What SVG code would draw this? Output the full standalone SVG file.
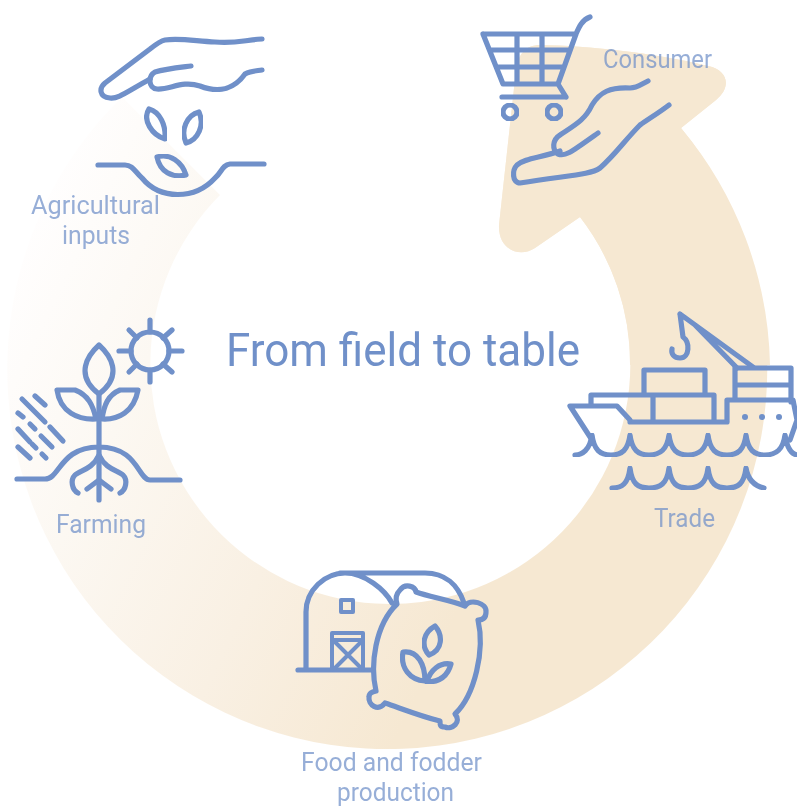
<svg xmlns="http://www.w3.org/2000/svg" width="797" height="807" viewBox="0 0 797 807">
<style>
.i{fill:none;stroke:#6f90c9;stroke-width:5.2;stroke-linecap:round;stroke-linejoin:round;filter:url(#b)}
.t{font-family:Roboto,"Liberation Sans",sans-serif;font-weight:400;fill:#6f90c9;font-size:26px;text-anchor:start;filter:url(#b)}
.l{opacity:.72}
</style>
<defs>
<linearGradient id="g" gradientUnits="userSpaceOnUse" x1="40" y1="200" x2="540" y2="440">
<stop offset="0" stop-color="#fffefe"/><stop offset=".3" stop-color="#fcf8f2"/><stop offset=".65" stop-color="#f9f0e3"/><stop offset="1" stop-color="#f6e8d2"/>
</linearGradient>
<filter id="b" x="-10%" y="-10%" width="120%" height="120%"><feGaussianBlur stdDeviation=".5"/></filter>
</defs>
<path id="ring" fill="url(#g)" d="M122 97 A380 380 0 1 0 681 128 L716 100 C732 87 728 70 708 66 C650 52 590 46 540 45 C525 45 518 55 516 70 L499 225 C498 250 520 258 535 248 L580 217 A240 240 0 1 1 220 195 Z"/>
<path fill="#f6e8d2" d="M681 128 L716 100 C732 87 728 70 708 66 C650 52 590 46 540 45 C525 45 518 55 516 70 L499 225 C498 250 520 258 535 248 L580 217 A240 240 0 0 1 630 365 H770 A380 380 0 0 0 681 128Z"/>
<g id="connectors"/>
<g id="agricultural-inputs">
<path class="i" d="M262 39 C245 40 235 44 215 42 C195 41 180 38 165 40 C160 41 155 45 150 49 L105 83 C99 88 99 97 110 98 C118 99 125 93 150 79"/>
<path class="i" d="M191 66 C175 68 165 69 155 72 C148 76 148 88 157 89 C170 90 182 80 200 86 C220 94 235 88 245 74 C250 71 255 71 262 70"/>
<path class="i" d="M149 109 C160 112 166 125 165 139 C152 135 142 120 149 109Z"/>
<path class="i" d="M199 112 C205 125 198 140 186 143 C180 130 187 115 199 112Z"/>
<path class="i" d="M157 157 C170 153 182 162 186 175 C172 178 160 172 157 157Z"/>
<path class="i" d="M98 165 H125 C133 165 135 172 142 178 C160 200 195 200 215 178 C222 172 222 165 230 164 H264"/>
<text class="t l" x="31" y="214" textLength="129" lengthAdjust="spacingAndGlyphs">Agricultural</text>
<text class="t l" x="62" y="244" textLength="68" lengthAdjust="spacingAndGlyphs">inputs</text>
</g>
<g id="consumer">
<path class="i" d="M590 17 C582 20 579 27 576 34 L558 84 L566 97 M483 34 H576 M483 34 L503 84 H558 M490 50 H570 M497 67 H564 M517 34 V84 M542 34 V84 M502 97 H566"/>
<circle class="i" cx="510" cy="112" r="7"/><circle class="i" cx="554" cy="112" r="7"/>
<path class="i" d="M648 81 C640 85 637 88 630 88 C610 87 600 92 592 105 C585 120 575 125 560 135 C552 140 552 150 558 154 C565 157 570 153 598 133"/>
<path class="i" d="M669 105 C660 112 650 118 640 125 C625 140 615 155 600 168 C590 175 570 175 520 183 C512 183 512 170 517 165 C525 158 540 158 560 151"/>
<text class="t l" x="603" y="68" textLength="109" lengthAdjust="spacingAndGlyphs">Consumer</text>
</g>
<g id="trade">
<path class="i" d="M680 314 L753 367 M680 314 L683 337 C690 342 690 358 680 358 C674 358 671 354 672 349 M695 325 L737 368"/>
<path class="i" d="M735 400 V368 H791 V402 M735 385 H791 M727 420 V400 H793 L797 420 L790 440"/>
<path class="i" d="M644 395 V370 H705 V395 M591 405 V395 H714 V420 M653 395 V420 M630 422 H727"/>
<path class="i" d="M592 440 L570 406 H617 L630 420"/>
<path class="i" d="M575 455 C582 455 590 450 592 435 C594 450 600 455 611 455 C622 455 628 450 630 435 C632 450 638 455 649 455 C660 455 667 450 669 435 C671 450 677 455 688 455 C699 455 706 450 708 435 C710 450 716 455 727 455 C738 455 744 450 746 435 C748 450 754 455 765 455 C776 455 783 450 785 435 C787 448 792 454 797 455"/>
<path class="i" d="M612 488 C622 488 628 484 630 468 C632 484 638 488 649 488 C660 488 667 484 669 468 C671 484 677 488 688 488 C699 488 706 484 708 468 C710 484 716 488 727 488 C738 488 744 484 746 468 C748 480 755 486 764 488"/>
<g fill="#6f90c9"><circle cx="745" cy="417" r="3"/><circle cx="762" cy="417" r="3"/><circle cx="779" cy="417" r="3"/></g>
<text class="t l" x="654" y="527" textLength="61" lengthAdjust="spacingAndGlyphs">Trade</text>
</g>
<g id="food-and-fodder-production">
<path class="i" d="M298 670 H372 M306 670 V612 C306 590 325 573 345 573 C365 573 385 590 392 603 M340 573 H425 C445 573 458 585 464 603"/>
<rect class="i" x="341" y="600" width="12" height="12" style="stroke-width:4"/>
<path class="i" style="stroke-width:4" d="M332 670 V633 H363 V670 M332 640 H363 M335 642 L361 668 M361 642 L335 668"/>
<path class="i" d="M400 590 C405 583 415 586 416 592 C430 597 450 600 465 606 C470 598 487 603 486 612 C486 620 480 620 478 620 C485 650 475 695 455 714 C462 722 452 730 445 727 C440 727 440 725 440 721 C420 716 400 708 385 703 C378 712 368 705 369 697 C369 693 372 692 376 691 C370 665 375 625 397 604 C395 598 397 593 400 590Z"/>
<path class="i" d="M435 626 C443 635 443 650 429 655 C420 645 424 632 435 626Z"/>
<path class="i" d="M403 652 C418 650 425 665 425 681 C410 680 400 668 403 652Z"/>
<path class="i" d="M451 664 C440 662 430 670 427 682 C440 682 448 675 451 664Z"/>
<text class="t l" x="301" y="771" textLength="181" lengthAdjust="spacingAndGlyphs">Food and fodder</text>
<text class="t l" x="337" y="801" textLength="117" lengthAdjust="spacingAndGlyphs">production</text>
</g>
<g id="farming">
<circle class="i" cx="150" cy="351" r="19"/>
<path class="i" d="M150 320 V332 M150 370 V382 M119 351 H131 M169 351 H182 M129 330 L137 338 M163 364 L172 372 M172 330 L163 338 M137 364 L129 372"/>
<path class="i" d="M99 345 C110 355 124 375 99 394 C74 375 88 355 99 345Z"/>
<path class="i" d="M57 390 H75 C88 395 93 405 96 419 C78 420 60 412 57 390Z"/>
<path class="i" d="M138 390 H120 C108 395 104 405 102 419 C118 420 134 412 138 390Z"/>
<path class="i" d="M99 394 V500 M17 479 H45 C60 479 60 447 99 447 C138 447 138 480 150 480 H180"/>
<path class="i" d="M99 455 C92 470 80 470 75 475 C70 480 72 490 78 493 M99 455 C106 470 118 470 123 475 C128 480 126 490 120 493 M87 489 L99 480 L111 489"/>
<path class="i" d="M35 396 L45 405 M22 399 L45 422 M18 413 L23 417 M30 424 L35 429 M50 427 L63 441 M18 429 L30 442 M41 436 L52 447 M32 444 L36 448 M18 447 L30 458 M42 454 L46 458"/>
<text class="t l" x="56" y="533" textLength="90" lengthAdjust="spacingAndGlyphs">Farming</text>
</g>
<text id="title" class="t" x="226" y="366" style="font-size:47px" textLength="354" lengthAdjust="spacingAndGlyphs">From field to table</text>
</svg>
